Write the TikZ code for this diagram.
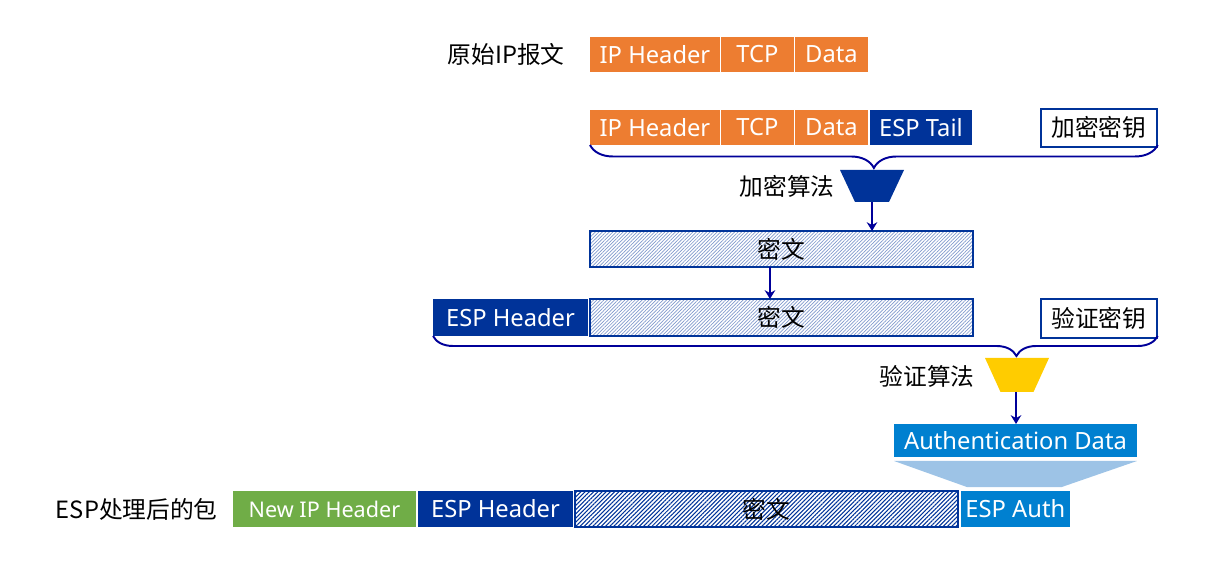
\documentclass[tikz,border=0pt]{standalone}
\usepackage{fontspec}
\setmainfont{Noto Sans}
\newfontfamily\cjk{Noto Sans CJK SC}
\usetikzlibrary{positioning,patterns.meta,decorations.pathreplacing,arrows.meta}

\definecolor{ipOrange}{HTML}{ED7D31}
\definecolor{espBlue}{HTML}{003399}
\definecolor{braceBlue}{HTML}{000099}
\definecolor{authBlue}{HTML}{0080D0}
\definecolor{authLight}{HTML}{9DC3E6}
\definecolor{newGreen}{HTML}{70AD47}
\definecolor{algYellow}{HTML}{FFCC00}

\tikzset{
	field/.style={minimum height=0.7cm, inner sep=0pt, outer sep=0pt, text=white, anchor=north west,
		font=\fontsize{13.5}{16}\selectfont},
	orange field/.style={field, fill=ipOrange},
	esp field/.style={field, fill=espBlue},
	auth field/.style={field, fill=authBlue},
	cipher/.style={draw=espBlue, line width=0.8pt, minimum width=7.66cm, minimum height=0.72cm,
		inner sep=0pt, outer sep=0pt, anchor=north west, font=\cjk\fontsize{13.5}{16}\selectfont,
		pattern={Lines[angle=45,distance=1.4pt,line width=0.4pt]}, pattern color=espBlue!50},
	dark cipher/.style={cipher, pattern={Lines[angle=45,distance=1.7pt,line width=0.6pt]}, pattern color=espBlue},
	keybox/.style={draw=espBlue, line width=1pt, fill=white, minimum width=2.32cm,
		minimum height=0.76cm, inner sep=0pt, anchor=north west, font=\cjk\fontsize{13.5}{16}\selectfont},
	textlabel/.style={font=\cjk\fontsize{13.5}{16}\selectfont, inner sep=0pt},
	bracket/.style={decorate, decoration={brace, mirror, amplitude=0.46cm}, draw=braceBlue, line width=1.1pt},
	flow/.style={-{Stealth[length=5pt,width=6pt]}, draw=braceBlue, line width=0.8pt}
}

\begin{document}
\begin{tikzpicture}[x=0.02cm, y=-0.02cm]
	\useasboundingbox (0,0) rectangle (1206,570);
	
	% original packet
	\node[orange field, minimum width=2.6cm] (ipA) at (590,37) {IP Header};
	\node[orange field, minimum width=1.46cm, right=0.02cm of ipA] (tcpA) {TCP};
	\node[orange field, minimum width=1.46cm, right=0.02cm of tcpA] (dataA) {Data};
	\node[textlabel, left=0.5cm of ipA] {原始IP报文};
	
	% packet with ESP tail
	\node[orange field, minimum width=2.6cm] (ipB) at (590,110) {IP Header};
	\node[orange field, minimum width=1.46cm, right=0.02cm of ipB] (tcpB) {TCP};
	\node[orange field, minimum width=1.46cm, right=0.02cm of tcpB] (dataB) {Data};
	\node[esp field, minimum width=2.04cm, right=0.04cm of dataB] (tailB) {ESP Tail};
	\node[keybox] (enckey) at (1040,108) {加密密钥};
	\draw[bracket] (ipB.south west) -- (ipB.south west -| enckey.east);
	
	% encryption
	\coordinate (encalg) at (872,170);
	\coordinate (encalg out) at (872,202);
	\fill[espBlue] (encalg) ++(-32,0) -- ++(64,0) -- ++(-15,32) -- ++(-34,0) -- cycle;
	\node[textlabel, anchor=east] at (835,186) {加密算法};
	\node[cipher] (ctA) at (590,231) {密文};
	\draw[flow] (encalg out) -- (encalg out |- ctA.north);
	
	% ESP header + ciphertext
	\node[cipher, minimum height=0.74cm] (ctB) at (590,299) {密文};
	\node[esp field, minimum width=3.1cm, minimum height=0.74cm, left=0.04cm of ctB] (espB) {ESP Header};
	\draw[flow] ([xshift=-0.23cm]ctA.south) -- ([xshift=-0.23cm]ctB.north);
	\node[keybox, minimum height=0.78cm] (authkey) at (1040,298) {验证密钥};
	\draw[bracket, decoration={amplitude=0.4cm, aspect=0.805}] (espB.south west) -- (espB.south west -| authkey.east);
	
	% authentication
	\coordinate (authalg) at (1017,358);
	\coordinate (authalg out) at (1016,392);
	\fill[algYellow] (authalg) ++(-32,0) -- ++(64,0) -- ++(-15.5,34) -- ++(-33,0) -- cycle;
	\node[textlabel, anchor=east] at (975,376) {验证算法};
	\node[auth field, minimum width=4.86cm, minimum height=0.66cm, anchor=north] (authD) at (1015.5,424) {Authentication Data};
	\draw[flow] (authalg out) -- (authalg out |- authD.north);
	
	% ESP packet
	\node[field, fill=newGreen, minimum width=3.66cm, minimum height=0.72cm, font=\fontsize{12.3}{15}\selectfont] (newip) at (233,491) {New IP Header};
	\node[esp field, minimum width=3.1cm, minimum height=0.72cm, right=0.04cm of newip] (espC) {ESP Header};
	\node[dark cipher, right=0.04cm of espC] (ctC) {密文};
	\node[auth field, minimum width=2.18cm, minimum height=0.72cm, right=0.06cm of ctC] (espauth) {ESP Auth};
	\node[textlabel, left=0.3cm of newip] {ESP处理后的包};
	\fill[authLight] ([yshift=-0.08cm]authD.south west) -- ([yshift=-0.08cm]authD.south east)
		-- ([xshift=-0.16cm,yshift=0.08cm]espauth.north east) -- ([xshift=0.12cm,yshift=0.08cm]espauth.north west) -- cycle;
\end{tikzpicture}
\end{document}
